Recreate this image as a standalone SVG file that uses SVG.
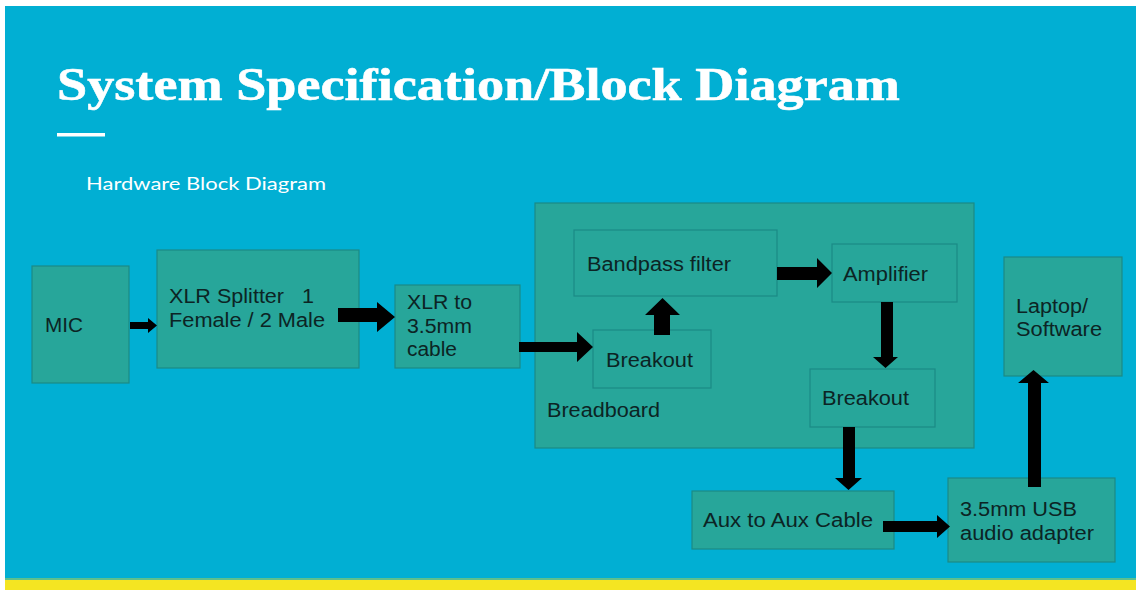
<svg xmlns="http://www.w3.org/2000/svg" width="1136" height="590" viewBox="0 0 1136 590">
  <style>
    .box { fill: #27a69a; stroke: #1b8a86; stroke-width: 1.2; }
    .lbl { font-family: "Liberation Sans", Arial, sans-serif; font-size: 19.5px; fill: #0c2424; white-space: pre; }
    .arrow { fill: #000; }
  </style>

  <!-- slide background -->
  <rect x="0" y="0" width="1136" height="590" fill="#ffffff"/>
  <rect x="5" y="6" width="1131" height="574" fill="#01afd3"/>
  <rect x="5" y="578" width="1131" height="2" fill="#5cc08e"/>
  <rect x="5" y="580" width="1131" height="10" fill="#f4e522"/>

  <!-- heading -->
  <text x="57" y="100" font-family="'Liberation Serif', 'DejaVu Serif', serif" font-weight="bold" font-size="47" fill="#ffffff" stroke="#ffffff" stroke-width="0.6" textLength="843" lengthAdjust="spacingAndGlyphs">System Specification/Block Diagram</text>
  <rect x="57" y="133" width="48" height="3.5" fill="#ffffff"/>
  <text x="86" y="190" font-family="Lato, 'Open Sans', sans-serif" font-size="18" fill="#ffffff" textLength="240" lengthAdjust="spacingAndGlyphs">Hardware Block Diagram</text>

  <!-- breadboard container -->
  <g id="breadboard">
    <rect class="box" x="535" y="203" width="439" height="245"/>
    <text class="lbl" x="547" y="417" textLength="113" lengthAdjust="spacingAndGlyphs">Breadboard</text>
  </g>

  <g id="mic">
    <rect class="box" x="32" y="266" width="97" height="117"/>
    <text class="lbl" x="45" y="332" textLength="38" lengthAdjust="spacingAndGlyphs">MIC</text>
  </g>

  <g id="xlr-splitter">
    <rect class="box" x="157" y="250" width="202" height="118"/>
    <text class="lbl" x="169" y="303" xml:space="preserve" textLength="145" lengthAdjust="spacingAndGlyphs">XLR Splitter   1</text>
    <text class="lbl" x="169" y="327" textLength="156" lengthAdjust="spacingAndGlyphs">Female / 2 Male</text>
  </g>

  <g id="xlr-cable">
    <rect class="box" x="395" y="285" width="125" height="83"/>
    <text class="lbl" x="407" y="309" textLength="65" lengthAdjust="spacingAndGlyphs">XLR to</text>
    <text class="lbl" x="407" y="333" textLength="65" lengthAdjust="spacingAndGlyphs">3.5mm</text>
    <text class="lbl" x="407" y="356" textLength="50" lengthAdjust="spacingAndGlyphs">cable</text>
  </g>

  <g id="bandpass">
    <rect class="box" x="574" y="230" width="203" height="66"/>
    <text class="lbl" x="587" y="271" textLength="144" lengthAdjust="spacingAndGlyphs">Bandpass filter</text>
  </g>

  <g id="amplifier">
    <rect class="box" x="832" y="244" width="125" height="58"/>
    <text class="lbl" x="843" y="281" textLength="85" lengthAdjust="spacingAndGlyphs">Amplifier</text>
  </g>

  <g id="breakout-in">
    <rect class="box" x="593" y="330" width="118" height="58"/>
    <text class="lbl" x="606" y="367" textLength="87" lengthAdjust="spacingAndGlyphs">Breakout</text>
  </g>

  <g id="breakout-out">
    <rect class="box" x="810" y="369" width="125" height="58"/>
    <text class="lbl" x="822" y="405" textLength="87" lengthAdjust="spacingAndGlyphs">Breakout</text>
  </g>

  <g id="laptop">
    <rect class="box" x="1004" y="257" width="118" height="119"/>
    <text class="lbl" x="1016" y="313" textLength="72" lengthAdjust="spacingAndGlyphs">Laptop/</text>
    <text class="lbl" x="1016" y="336" textLength="86" lengthAdjust="spacingAndGlyphs">Software</text>
  </g>

  <g id="aux-cable">
    <rect class="box" x="692" y="491" width="202" height="58"/>
    <text class="lbl" x="703" y="527" textLength="170" lengthAdjust="spacingAndGlyphs">Aux to Aux Cable</text>
  </g>

  <g id="usb-adapter">
    <rect class="box" x="948" y="478" width="167" height="84"/>
    <text class="lbl" x="960" y="516" textLength="117" lengthAdjust="spacingAndGlyphs">3.5mm USB</text>
    <text class="lbl" x="960" y="540" textLength="134" lengthAdjust="spacingAndGlyphs">audio adapter</text>
  </g>

  <!-- block arrows -->
  <g id="connectors" class="arrow">
    <polygon points="130,322 148,322 148,318 157,325.5 148,333 148,329 130,329"/>
    <polygon points="338,308 377,308 377,302 395,317 377,332 377,322 338,322"/>
    <polygon points="519,342 577,342 577,332 593,347 577,362 577,352 519,352"/>
    <polygon points="654,335 654,315 645,315 662.5,298 680,315 670,315 670,335"/>
    <polygon points="777,267 817,267 817,258 832,273 817,288 817,280 777,280"/>
    <polygon points="881,302 893,302 893,357 898,357 885.5,368 873,357 881,357"/>
    <polygon points="843,427 855,427 855,478 862,478 848.5,490 835,478 843,478"/>
    <polygon points="883,521 937,521 937,515 950,526.5 937,538 937,532 883,532"/>
    <polygon points="1028,487 1028,383 1018,383 1033.5,370 1049,383 1041,383 1041,487"/>
  </g>
</svg>
